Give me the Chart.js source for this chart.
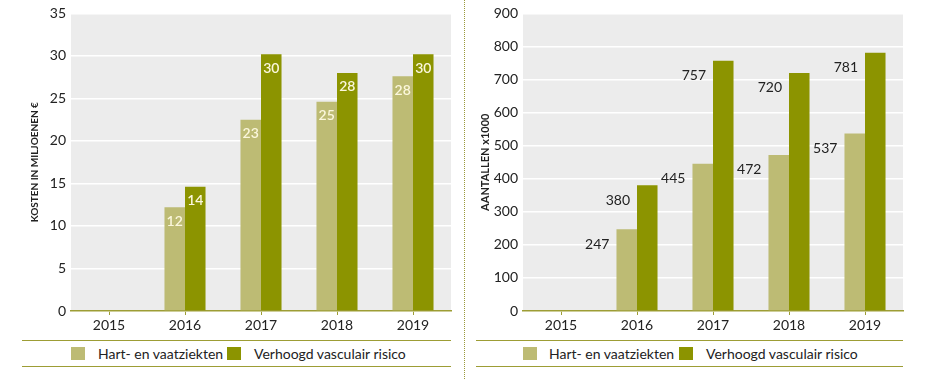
<!DOCTYPE html>
<html>
<head>
<meta charset="utf-8">
<script src="https://cdn.jsdelivr.net/npm/chart.js@4.4.1/dist/chart.umd.min.js"></script>
<style>
  body { margin:0; background:#fff; font-family:Lato, sans-serif; }
  #wrap { position:relative; width:928px; height:379px; overflow:hidden; }
  .cv { position:absolute; top:0; }
  .sep { position:absolute; left:464px; top:0; height:379px; border-left:1px dotted #9a9a3a; }
  .legend { position:absolute; top:340px; height:25px; border-top:1.5px solid #9d9d35; border-bottom:1.5px solid #9d9d35; font-size:14px; color:#222; }
  .legend span { position:absolute; top:4px; }
  .legend i { position:absolute; top:6px; width:14px; height:13px; }
</style>
</head>
<body>
<div id="wrap">
  <div class="cv" style="left:0;width:460px;height:336px"><canvas id="kosten"></canvas></div>
  <div class="sep"></div>
  <div class="cv" style="left:460px;width:468px;height:336px"><canvas id="aantallen"></canvas></div>
  <div class="legend" style="left:22px;width:429px">
    <i style="left:49px;background:#bdbb74"></i><span style="left:76px">Hart- en vaatziekten</span>
    <i style="left:205px;background:#8c9400"></i><span style="left:232px">Verhoogd vasculair risico</span>
  </div>
  <div class="legend" style="left:476px;width:427px">
    <i style="left:47px;background:#bdbb74"></i><span style="left:73px">Hart- en vaatziekten</span>
    <i style="left:203px;background:#8c9400"></i><span style="left:230px">Verhoogd vasculair risico</span>
  </div>
</div>
<script>
// jaren en waarden
const jaren = ['2015', '2016', '2017', '2018', '2019'];

// kosten in miljoenen euro
const kostenHVZ = [null, 12.2, 22.5, 24.6, 27.6];
const kostenVVR = [null, 14.6, 30.2, 28.0, 30.2];
const kostenLabelsHVZ = ['', '12', '23', '25', '28'];
const kostenLabelsVVR = ['', '14', '30', '28', '30'];

// aantallen x1000
const aantalHVZ = [null, 247, 445, 472, 537];
const aantalVVR = [null, 380, 757, 720, 781];

const kostenTicks = [0, 5, 10, 15, 20, 25, 30, 35];
const aantalTicks = [0, 100, 200, 300, 400, 500, 600, 700, 800, 900];

const LICHT = '#bdbb74';
const DONKER = '#8c9400';
const LIJN = '#9d9d35';
const FONT = 'Lato, sans-serif';

const plotBg = {
  id: 'plotBg',
  beforeDraw(chart) {
    const { ctx, chartArea: a } = chart;
    ctx.save();
    ctx.fillStyle = '#ececec';
    ctx.fillRect(a.left, a.top, a.right - a.left, a.bottom - a.top);
    ctx.restore();
  }
};

// labels in de staaf (wit) of links ervan (donker)
function waardeLabels(mode, labelSets) {
  return {
    id: 'waardeLabels',
    afterDatasetsDraw(chart) {
      const ctx = chart.ctx;
      ctx.save();
      ctx.textBaseline = 'middle';
      chart.data.datasets.forEach((ds, di) => {
        chart.getDatasetMeta(di).data.forEach((bar, i) => {
          if (ds.data[i] == null) return;
          const txt = labelSets ? labelSets[di][i] : String(ds.data[i]);
          if (mode === 'inside') {
            ctx.font = '600 14px ' + FONT;
            ctx.fillStyle = '#fbf7dc';
            ctx.textAlign = 'center';
            ctx.fillText(txt, bar.x, bar.y + 14);
          } else {
            ctx.font = '14px ' + FONT;
            ctx.fillStyle = '#222';
            ctx.textAlign = 'right';
            ctx.fillText(txt, bar.x - bar.width / 2 - 7, bar.y + 15);
          }
        });
      });
      ctx.restore();
    }
  };
}

function maakGrafiek(id, hvz, vvr, ticks, max, titel, titelSize, yWidth, padLeft, padRight, plugin) {
  new Chart(document.getElementById(id), {
    type: 'bar',
    data: {
      labels: jaren,
      datasets: [
        { label: 'Hart- en vaatziekten', data: hvz, backgroundColor: LICHT },
        { label: 'Verhoogd vasculair risico', data: vvr, backgroundColor: DONKER }
      ]
    },
    options: {
      responsive: true, maintainAspectRatio: false, animation: false,
      layout: { padding: { top: 2, left: padLeft, right: padRight, bottom: 0 } },
      datasets: { bar: { barPercentage: 1, categoryPercentage: 0.54 } },
      plugins: { legend: { display: false }, tooltip: { enabled: false } },
      scales: {
        x: {
          grid: { display: true, drawOnChartArea: false, drawTicks: true, tickLength: 4, offset: false, color: LIJN },
          border: { color: LIJN, width: 1.5 },
          ticks: { color: '#222', font: { family: FONT, size: 14 }, padding: 2 },
          afterFit(s) { s.height = 25; }
        },
        y: {
          min: 0, max: max,
          afterBuildTicks(s) { s.ticks = ticks.map(v => ({ value: v })); },
          grid: { color: '#ffffff', lineWidth: 1.5, drawTicks: false },
          border: { display: false },
          ticks: { color: '#222', font: { family: FONT, size: 14 }, padding: 5 },
          title: { display: true, text: titel, color: '#222', font: { family: FONT, size: titelSize, weight: 'bold' }, padding: 0 },
          afterFit(s) { s.width = yWidth; }
        }
      }
    },
    plugins: [plotBg, plugin]
  });
}

maakGrafiek('kosten', kostenHVZ, kostenVVR, kostenTicks, 35, 'KOSTEN IN MILJOENEN €', 10, 42, 29, 9,
  waardeLabels('inside', [kostenLabelsHVZ, kostenLabelsVVR]));
maakGrafiek('aantallen', aantalHVZ, aantalVVR, aantalTicks, 900, 'AANTALLEN x1000', 11, 44, 19, 25,
  waardeLabels('left', null));
</script>
</body>
</html>
